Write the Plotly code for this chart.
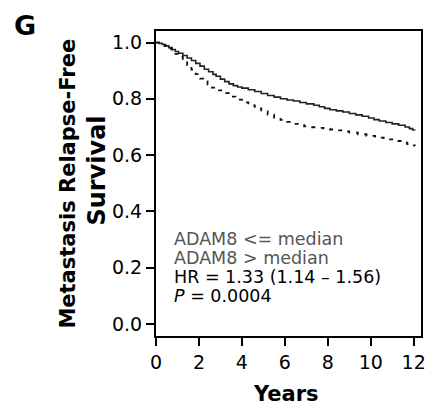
import plotly.graph_objects as go

# Kaplan-Meier curves
t_low = [0, 0.15, 0.3, 0.45, 0.6, 0.75, 0.9, 1.05, 1.25, 1.45, 1.65, 1.85, 2.05, 2.25, 2.45, 2.65, 2.8, 3.0, 3.2, 3.4,
         3.6, 3.8, 4.0, 4.3, 4.6, 4.9, 5.2, 5.5, 5.8, 6.1, 6.4, 6.7, 7.0, 7.35, 7.6, 7.85, 8.1, 8.4, 8.7, 9.0,
         9.3, 9.6, 9.9, 10.15, 10.4, 10.7, 11.0, 11.3, 11.6, 11.8, 11.95, 12.05]
s_low = [1.0, 0.997, 0.993, 0.988, 0.982, 0.975, 0.968, 0.962, 0.954, 0.945, 0.936, 0.926, 0.916, 0.905, 0.896, 0.887,
         0.880, 0.870, 0.861, 0.853, 0.847, 0.842, 0.838, 0.832, 0.826, 0.819, 0.812, 0.806, 0.800, 0.796, 0.792,
         0.787, 0.782, 0.777, 0.772, 0.766, 0.761, 0.757, 0.753, 0.748, 0.743, 0.738, 0.732, 0.726, 0.721, 0.716,
         0.711, 0.706, 0.700, 0.694, 0.689, 0.688]

t_high = [0, 0.2, 0.4, 0.6, 0.75, 0.9, 1.05, 1.25, 1.45, 1.65, 1.85, 2.05, 2.2, 2.4, 2.6, 2.85, 3.1, 3.4, 3.7, 4.0,
          4.3, 4.6, 4.9, 5.2, 5.5, 5.8, 6.1, 6.4, 6.6, 6.9, 7.2, 7.5, 7.8, 8.1, 8.4, 8.7, 9.0, 9.4, 9.8, 10.2,
          10.6, 11.0, 11.4, 11.7, 11.95, 12.05]
s_high = [1.0, 0.995, 0.987, 0.978, 0.970, 0.960, 0.949, 0.936, 0.920, 0.904, 0.888, 0.872, 0.862, 0.851, 0.840, 0.830,
          0.820, 0.808, 0.797, 0.787, 0.777, 0.766, 0.755, 0.744, 0.733, 0.725, 0.718, 0.711, 0.706, 0.702, 0.699,
          0.697, 0.694, 0.691, 0.688, 0.684, 0.680, 0.674, 0.668, 0.662, 0.656, 0.650, 0.644, 0.639, 0.634, 0.632]

x_ticks = [0, 2, 4, 6, 8, 10, 12]
y_ticks = [0.0, 0.2, 0.4, 0.6, 0.8, 1.0]
y_ticktext = ["0.0", "0.2", "0.4", "0.6", "0.8", "1.0"]

stats_lines = ["ADAM8 <= median", "ADAM8 > median", "HR = 1.33 (1.14 – 1.56)", "<i>P</i> = 0.0004"]
stats_colors = ["#555555", "#555555", "black", "black"]
stats_y = [0.300, 0.234, 0.166, 0.100]

FONT = "DejaVu Sans"

fig = go.Figure()
fig.add_trace(go.Scatter(x=t_low, y=s_low, mode="lines", line=dict(shape="hv", color="#222222", width=1.6), showlegend=False))
fig.add_trace(go.Scatter(x=t_high, y=s_high, mode="lines", line=dict(shape="hv", color="#111111", width=1.8, dash="4px,6px"), showlegend=False))

ann = []
for txt, col, yy in zip(stats_lines, stats_colors, stats_y):
    ann.append(dict(x=0.73, y=yy, xref="x", yref="y", text=txt, showarrow=False, xanchor="left", yanchor="middle",
                    font=dict(family=FONT, size=17.5, color=col)))
ann.append(dict(x=-0.496, y=1.018, xref="paper", yref="paper", text="<b>G</b>", showarrow=False,
                xanchor="center", yanchor="middle", font=dict(family=FONT, size=27, color="black")))
ann.append(dict(x=0.489, y=-0.19, xref="paper", yref="paper", text="<b>Years</b>", showarrow=False,
                xanchor="center", yanchor="middle", font=dict(family=FONT, size=21, color="black")))
ann.append(dict(x=-0.333, y=0.499, xref="paper", yref="paper", text="<b>Metastasis Relapse-Free</b>", showarrow=False,
                textangle=-90, xanchor="center", yanchor="middle", font=dict(family=FONT, size=21, color="black")))
ann.append(dict(x=-0.222, y=0.543, xref="paper", yref="paper", text="<b>Survival</b>", showarrow=False,
                textangle=-90, xanchor="center", yanchor="middle", font=dict(family=FONT, size=24, color="black")))

fig.update_layout(
    width=432, height=410,
    margin=dict(l=156, r=6, t=31, b=74),
    paper_bgcolor="white", plot_bgcolor="white",
    annotations=ann,
    xaxis=dict(range=[0, 12.34], tickvals=x_ticks, ticks="outside", ticklen=8, tickwidth=2, tickcolor="black",
               showline=True, linewidth=2, linecolor="black", mirror=True, showgrid=False, zeroline=False,
               tickfont=dict(family=FONT, size=19, color="black")),
    yaxis=dict(range=[-0.043, 1.041], tickvals=y_ticks, ticktext=y_ticktext, ticks="outside", ticklen=8, tickwidth=2,
               tickcolor="black", showline=True, linewidth=2, linecolor="black", mirror=True, showgrid=False,
               zeroline=False, tickfont=dict(family=FONT, size=19, color="black")),
)

fig.write_html("out.html", config={"displayModeBar": False},
               post_script="document.body.style.margin='0';document.body.style.padding='0';")
